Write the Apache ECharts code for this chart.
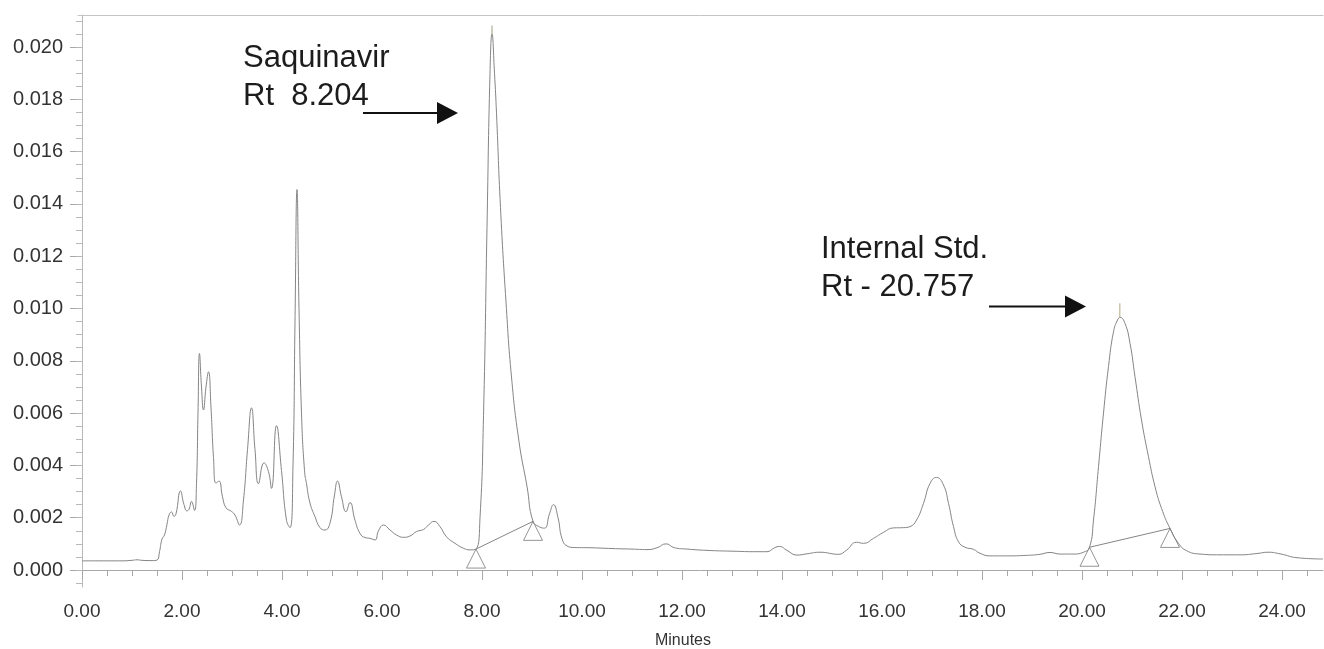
<!DOCTYPE html>
<html>
<head>
<meta charset="utf-8">
<script src="https://cdn.jsdelivr.net/npm/echarts@6/dist/echarts.min.js"></script>
<style>
html,body{margin:0;padding:0;background:#fff;}
#chart{width:1324px;height:649px;}
</style>
</head>
<body>
<div id="chart"></div>
<script>
// ---- data ----
const minutes = [0.00,0.40,0.80,1.00,1.10,1.20,1.40,1.50,1.55,1.60,1.65,1.70,1.74,1.79,1.84,1.88,1.97,2.04,2.10,2.14,2.19,2.25,2.29,2.32,2.35,2.39,2.43,2.48,2.53,2.58,2.63,2.68,2.74,2.81,2.88,2.99,3.06,3.15,3.23,3.31,3.39,3.46,3.53,3.64,3.73,3.79,3.89,3.99,4.09,4.16,4.22,4.26,4.30,4.34,4.39,4.45,4.49,4.56,4.66,4.76,4.86,4.96,5.05,5.11,5.19,5.28,5.36,5.46,5.56,5.66,5.76,5.86,5.93,6.03,6.16,6.29,6.43,6.56,6.69,6.83,6.93,7.04,7.16,7.29,7.46,7.63,7.76,7.88,7.96,8.03,8.10,8.16,8.20,8.25,8.29,8.37,8.48,8.59,8.74,8.90,9.02,9.15,9.25,9.35,9.43,9.52,9.60,9.70,9.85,10.20,10.60,11.00,11.30,11.50,11.68,11.85,12.10,12.50,13.00,13.50,13.70,13.85,13.95,14.10,14.30,14.50,14.76,15.13,15.29,15.49,15.63,15.83,16.03,16.23,16.43,16.56,16.69,16.83,16.96,17.09,17.23,17.33,17.43,17.53,17.66,17.83,17.96,18.16,18.49,18.89,19.16,19.36,19.56,19.83,20.03,20.15,20.23,20.33,20.43,20.53,20.63,20.71,20.76,20.86,20.96,21.06,21.19,21.33,21.46,21.59,21.76,21.93,22.09,22.36,22.76,23.16,23.50,23.72,23.98,24.30,24.82];
const absorbance = [0.00035,0.00035,0.00035,0.00037,0.00039,0.00037,0.00036,0.00038,0.00070,0.00118,0.00134,0.00175,0.00210,0.00222,0.00205,0.00215,0.00302,0.00250,0.00226,0.00232,0.00262,0.00228,0.00330,0.00600,0.00828,0.00700,0.00612,0.00700,0.00758,0.00620,0.00430,0.00332,0.00340,0.00280,0.00238,0.00224,0.00210,0.00172,0.00268,0.00460,0.00620,0.00460,0.00330,0.00410,0.00376,0.00312,0.00552,0.00380,0.00190,0.00162,0.00400,0.00950,0.01455,0.01000,0.00600,0.00380,0.00330,0.00256,0.00204,0.00162,0.00153,0.00180,0.00287,0.00340,0.00280,0.00223,0.00258,0.00190,0.00140,0.00124,0.00121,0.00115,0.00150,0.00172,0.00153,0.00134,0.00125,0.00130,0.00147,0.00155,0.00172,0.00186,0.00166,0.00127,0.00102,0.00083,0.00077,0.00080,0.00200,0.00590,0.01310,0.01900,0.02050,0.01900,0.01747,0.01386,0.01025,0.00738,0.00491,0.00320,0.00186,0.00165,0.00160,0.00215,0.00250,0.00200,0.00120,0.00092,0.00086,0.00085,0.00082,0.00080,0.00078,0.00085,0.00100,0.00085,0.00080,0.00075,0.00072,0.00070,0.00070,0.00085,0.00090,0.00075,0.00057,0.00062,0.00068,0.00060,0.00076,0.00106,0.00102,0.00121,0.00144,0.00161,0.00162,0.00166,0.00191,0.00255,0.00331,0.00354,0.00325,0.00255,0.00166,0.00108,0.00087,0.00079,0.00064,0.00054,0.00054,0.00056,0.00060,0.00067,0.00061,0.00061,0.00068,0.00087,0.00191,0.00395,0.00600,0.00778,0.00911,0.00956,0.00966,0.00943,0.00867,0.00739,0.00574,0.00433,0.00319,0.00236,0.00159,0.00102,0.00074,0.00061,0.00058,0.00058,0.00063,0.00068,0.00061,0.00047,0.00042];
// integration baseline points (triangle markers)
const saqBaseline = [[7.88,0.00080],[9.02,0.00186]];
const isBaseline = [[20.15,0.00087],[21.76,0.00159]];
// apex marker ticks
const saqApex = [[8.20,0.02050],[8.20,0.02082]];
const isApex = [[20.757,0.00966],[20.757,0.01020]];
// tick labels
const xTicks = [0,2,4,6,8,10,12,14,16,18,20,22,24];
const yTicks = [0,0.002,0.004,0.006,0.008,0.010,0.012,0.014,0.016,0.018,0.020];
const xMinor = [];
for (let i = 0; i <= 49; i++) xMinor.push(i * 0.5);
const yMinor = [];
for (let i = -1; i <= 42; i++) yMinor.push(+(i * 0.0005).toFixed(4));
const annotations = ['Saquinavir', 'Rt  8.204', 'Internal Std.', 'Rt - 20.757', 'Minutes'];

const trace = minutes.map((t, i) => [t, absorbance[i]]);

const XMIN = -0.08, XMAX = 24.82, YMIN = -0.00065, YMAX = 0.021224;
const FONT = "'Liberation Sans', Arial, sans-serif";
const axisGray = '#a8a8a8';
const traceGray = '#858585';

const chart = echarts.init(document.getElementById('chart'), null, {renderer: 'canvas'});

function arrow(x1, x2, y) {
  return [
    {type: 'line', shape: {x1: x1, y1: y, x2: x2 - 20, y2: y}, style: {stroke: '#111', lineWidth: 2}},
    {type: 'polygon', shape: {points: [[x2 - 21, y - 11], [x2, y], [x2 - 21, y + 11]]}, style: {fill: '#111'}}
  ];
}

const option = {
  animation: false,
  backgroundColor: '#fff',
  grid: {left: 78, right: 1, top: 15, bottom: 62, containLabel: false, outerBoundsMode: 'none'},
  xAxis: [
    {
      type: 'value', min: XMIN, max: XMAX, position: 'bottom',
      axisLine: {show: true, lineStyle: {color: axisGray, width: 1}},
      axisTick: {show: true, customValues: xTicks, length: 10, lineStyle: {color: axisGray}},
      axisLabel: {show: true, customValues: xTicks, formatter: v => v.toFixed(2), margin: 15,
        fontSize: 19, fontFamily: FONT, color: '#333'},
      splitLine: {show: false}
    },
    {
      type: 'value', min: XMIN, max: XMAX, position: 'bottom',
      axisLine: {show: false},
      axisTick: {show: true, customValues: xMinor, length: 6, lineStyle: {color: axisGray}},
      axisLabel: {show: false},
      splitLine: {show: false}
    },
    {
      type: 'value', min: XMIN, max: XMAX, position: 'top',
      axisLine: {show: true, lineStyle: {color: '#c4c4c4', width: 1}},
      axisTick: {show: false}, axisLabel: {show: false}, splitLine: {show: false}
    }
  ],
  yAxis: [
    {
      type: 'value', min: YMIN, max: YMAX, position: 'left',
      axisLine: {show: true, lineStyle: {color: '#b8b8b8', width: 1}},
      axisTick: {show: true, customValues: yTicks, length: 12, lineStyle: {color: axisGray}},
      axisLabel: {show: true, customValues: yTicks, formatter: v => v.toFixed(3), margin: 15,
        fontSize: 20, fontFamily: FONT, color: '#333'},
      splitLine: {show: false}
    },
    {
      type: 'value', min: YMIN, max: YMAX, position: 'left',
      axisLine: {show: false},
      axisTick: {show: true, customValues: yMinor, length: 6, lineStyle: {color: '#b8b8b8'}},
      axisLabel: {show: false},
      splitLine: {show: false}
    }
  ],
  series: [
    {
      type: 'line', data: trace, showSymbol: false, smooth: 0.5,
      lineStyle: {color: traceGray, width: 1}, z: 2, silent: true
    },
    {type: 'line', data: saqBaseline, showSymbol: false, lineStyle: {color: traceGray, width: 1}, z: 2},
    {type: 'line', data: isBaseline, showSymbol: false, lineStyle: {color: traceGray, width: 1}, z: 2},
    {type: 'line', data: saqApex, showSymbol: false, lineStyle: {color: '#9a9a80', width: 1}, z: 2},
    {type: 'line', data: isApex, showSymbol: false, lineStyle: {color: '#b0a880', width: 1}, z: 2},
    {
      type: 'scatter', data: saqBaseline.concat(isBaseline), symbol: 'triangle',
      symbolSize: [19, 19], symbolOffset: [0, '50%'],
      itemStyle: {color: 'rgba(255,255,255,0)', borderColor: '#7a7a7a', borderWidth: 1}, z: 3
    }
  ],
  graphic: [
    {type: 'text', x: 243, y: 58.5, style: {text: annotations[0], font: '31px ' + FONT, fill: '#1c1c1c', verticalAlign: 'middle'}},
    {type: 'text', x: 243, y: 96.5, style: {text: annotations[1], font: '31px ' + FONT, fill: '#1c1c1c', verticalAlign: 'middle'}},
    {type: 'text', x: 821, y: 249, style: {text: annotations[2], font: '31px ' + FONT, fill: '#1c1c1c', verticalAlign: 'middle'}},
    {type: 'text', x: 821, y: 287, style: {text: annotations[3], font: '31px ' + FONT, fill: '#1c1c1c', verticalAlign: 'middle'}},
    {type: 'text', x: 683, y: 641, style: {text: annotations[4], font: '16px ' + FONT, fill: '#333', align: 'center', verticalAlign: 'middle'}}
  ].concat(arrow(363, 458, 113)).concat(arrow(989, 1086, 306.5))
};
chart.setOption(option);
</script>
</body>
</html>
